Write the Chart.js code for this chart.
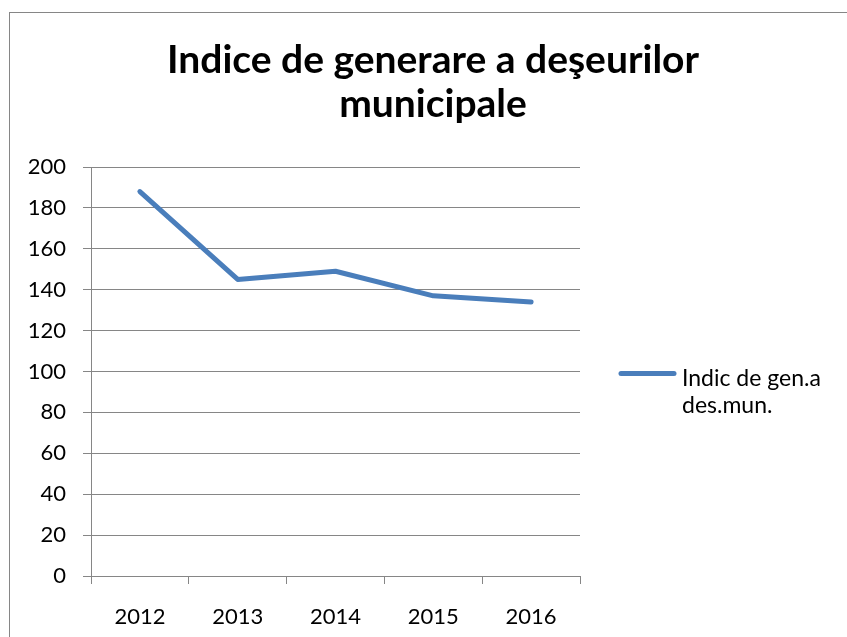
<!DOCTYPE html>
<html>
<head>
<meta charset="utf-8">
<script src="https://cdn.jsdelivr.net/npm/chart.js@4.4.1/dist/chart.umd.min.js"></script>
<style>
  html, body { margin: 0; padding: 0; background: #ffffff; }
  #wrap { width: 847px; height: 637px; position: relative; }
</style>
</head>
<body>
<div id="wrap"><canvas id="c" width="847" height="637"></canvas></div>
<script>
// ---- data ----
const titleLines = ['Indice de generare a deşeurilor', 'municipale'];
const categories = ['2012', '2013', '2014', '2015', '2016'];
const seriesLabel = 'Indic de gen.a des.mun.';
const seriesValues = [188, 145, 149, 137, 134];
const yTicks = { min: 0, max: 200, step: 20 };

// ---- styles ----
const FONT = 'Lato, "Open Sans", "DejaVu Sans", sans-serif';
const GRID = '#868686';
const LINE = '#4a7ebb';

const framePlugin = {
  id: 'frame',
  beforeDraw(chart) {
    const ctx = chart.ctx;
    ctx.save();
    ctx.fillStyle = '#ffffff';
    ctx.fillRect(0, 0, chart.width, chart.height);
    ctx.strokeStyle = GRID;
    ctx.lineWidth = 1;
    ctx.strokeRect(9.5, 12.5, chart.width + 20, chart.height + 20);
    ctx.restore();
  }
};

const legendPlugin = {
  id: 'sideLegend',
  afterDraw(chart) {
    const ctx = chart.ctx;
    const area = chart.chartArea;
    const ds = chart.data.datasets[0];
    const midY = (area.top + area.bottom) / 2;
    const x0 = area.right + 41;
    ctx.save();
    ctx.strokeStyle = ds.borderColor;
    ctx.lineWidth = 5;
    ctx.lineCap = 'round';
    ctx.beginPath();
    ctx.moveTo(x0, midY + 2);
    ctx.lineTo(x0 + 53, midY + 2);
    ctx.stroke();
    ctx.font = '23px ' + FONT;
    ctx.fillStyle = '#000000';
    ctx.textBaseline = 'alphabetic';
    const maxW = chart.width - (x0 + 61) - 2;
    const words = ds.label.split(' ');
    const lines = [];
    let cur = '';
    words.forEach(w => {
      const t = cur ? cur + ' ' + w : w;
      if (ctx.measureText(t).width > maxW && cur) { lines.push(cur); cur = w; }
      else cur = t;
    });
    if (cur) lines.push(cur);
    lines.forEach((l, i) => ctx.fillText(l, x0 + 61, midY + 14 + i * 27));
    ctx.restore();
  }
};

const rightTickPlugin = {
  id: 'rightTick',
  afterDraw(chart) {
    const ctx = chart.ctx;
    const area = chart.chartArea;
    ctx.save();
    ctx.strokeStyle = GRID;
    ctx.lineWidth = 1;
    ctx.beginPath();
    const x = Math.round(area.right) + 0.5;
    ctx.moveTo(x, area.bottom);
    ctx.lineTo(x, area.bottom + 8);
    ctx.stroke();
    ctx.restore();
  }
};

new Chart(document.getElementById('c'), {
  type: 'line',
  data: {
    labels: categories,
    datasets: [{
      label: seriesLabel,
      data: seriesValues,
      borderColor: LINE,
      backgroundColor: LINE,
      borderWidth: 5,
      pointRadius: 0,
      pointHoverRadius: 0,
      tension: 0,
      borderCapStyle: 'round',
      borderJoinStyle: 'round',
      fill: false,
      yAxisID: 'y'
    }]
  },
  options: {
    responsive: false,
    animation: false,
    devicePixelRatio: 1,
    layout: { padding: { left: 19, right: 0, top: 0, bottom: 0 } },
    plugins: {
      legend: { display: false },
      tooltip: { enabled: false },
      title: {
        display: true,
        text: titleLines,
        color: '#000000',
        font: { family: FONT, size: 39, weight: 'bold', lineHeight: 43.5 / 39 },
        padding: { top: 39, bottom: 41 }
      }
    },
    scales: {
      x: {
        type: 'category',
        offset: true,
        grid: { offset: true, drawOnChartArea: false, drawTicks: true, tickLength: 8, color: GRID, lineWidth: 1 },
        border: { display: true, color: GRID, width: 1 },
        ticks: { color: '#000000', font: { family: FONT, size: 22 }, padding: 20, maxRotation: 0 },
        afterFit(s) { s.height = 61; }
      },
      y: {
        position: 'left',
        min: yTicks.min,
        max: yTicks.max,
        grid: { drawTicks: true, tickLength: 8, color: GRID, lineWidth: 1 },
        border: { display: true, color: GRID, width: 1 },
        ticks: { stepSize: yTicks.step, color: '#000000', font: { family: FONT, size: 22 }, padding: 17 },
        afterFit(s) { s.width = 72; }
      },
      yRight: {
        position: 'right',
        display: true,
        grid: { display: false, drawTicks: false },
        border: { display: false },
        ticks: { display: false },
        afterFit(s) { s.width = 267; }
      }
    }
  },
  plugins: [framePlugin, legendPlugin, rightTickPlugin]
});
</script>
</body>
</html>
